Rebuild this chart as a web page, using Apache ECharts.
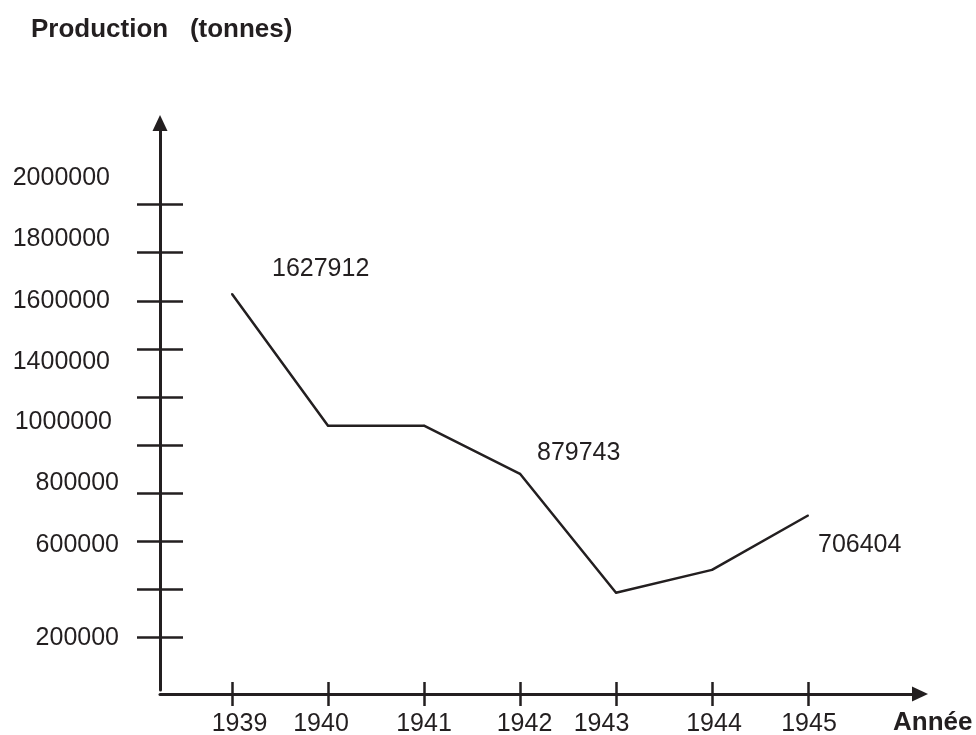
<!DOCTYPE html>
<html>
<head>
<meta charset="utf-8">
<script src="https://cdn.jsdelivr.net/npm/echarts@6/dist/echarts.min.js"></script>
<style>
html, body { margin: 0; padding: 0; background: #fff; }
#main { width: 976px; height: 735px; }
</style>
</head>
<body>
<div id="main"></div>
<script>
// données
var years = [1939, 1940, 1941, 1942, 1943, 1944, 1945];
var production = [1627912, 1080000, 1080000, 879743, 385000, 480000, 706404];
var labelledYears = [1939, 1942, 1945];          // valeurs imprimées sur la courbe
var yTickValues = [200000, 400000, 600000, 800000, 1000000, 1200000, 1400000, 1600000, 1800000, 2000000];
var yLabelValues = [200000, 600000, 800000, 1000000, 1400000, 1600000, 1800000, 2000000];
var xTickValues = [1939, 1940, 1941, 1942, 1943, 1944, 1945];

var ink = '#231f20';
var font = 'Liberation Sans, Arial, Helvetica, sans-serif';

// décalages (le dessin d'origine est fait à la main)
var pointLabelOffset = { 1939: [39, -25], 1942: [16, -21], 1945: [9, 30] };
var yLabelShift = { 200000: [0, 1], 600000: [0, 4], 800000: [0, -10], 1000000: [7, -23],
                    1400000: [9, 13], 1600000: [9, 0], 1800000: [9, -14], 2000000: [9, -27] };
var xLabelShift = { 1939: 7.5, 1940: -7, 1941: 0, 1942: 4.5, 1943: -14.5, 1944: 2, 1945: 1 };

var yRich = {};
yLabelValues.forEach(function (v) {
  var s = yLabelShift[v];
  yRich['y' + v] = {
    fontSize: 25, color: ink, fontFamily: font,
    padding: [s[1] > 0 ? 2 * s[1] : 0, s[0], s[1] < 0 ? -2 * s[1] : 0, 0]
  };
});
var xRich = {};
xTickValues.forEach(function (v) {
  var d = xLabelShift[v];
  xRich['x' + v] = {
    fontSize: 25, color: ink, fontFamily: font,
    padding: [0, d < 0 ? -2 * d : 0, 0, d > 0 ? 2 * d : 0]
  };
});

var seriesData = years.map(function (y, i) {
  var item = { value: [y, production[i]] };
  if (labelledYears.indexOf(y) >= 0) {
    item.label = {
      show: true, position: 'right', distance: 0,
      offset: pointLabelOffset[y],
      formatter: String(production[i]),
      fontSize: 25, color: ink, fontFamily: font
    };
  }
  return item;
});

var myChart = echarts.init(document.getElementById('main'));
myChart.setOption({
  animation: false,
  backgroundColor: '#fff',
  title: {
    text: 'Production   (tonnes)',
    left: 31, top: 17, padding: 0,
    textStyle: { fontSize: 26, fontWeight: 'bold', color: ink, fontFamily: font }
  },
  grid: { left: 160, right: 56, top: 123, bottom: 45, containLabel: false, outerBoundsMode: 'none' },
  xAxis: [
    {
      type: 'value', position: 'bottom', offset: 4,
      min: 1938.25, max: 1946.1667,
      name: '{n|Année}', nameLocation: 'end', nameGap: -27,
      nameMoveOverlap: false,
      nameTextStyle: {
        rich: { n: { fontSize: 26, fontWeight: 'bold', color: ink, fontFamily: font, padding: [58, 0, 0, 0] } }
      },
      axisLine: { show: true, onZero: false, symbol: ['none', 'triangle'], symbolSize: [15, 16],
                  lineStyle: { color: ink, width: 3 } },
      axisTick: { show: true, customValues: xTickValues, length: 12, lineStyle: { color: ink, width: 2.5 } },
      axisLabel: {
        customValues: xTickValues, margin: 18,
        formatter: function (v) { return '{x' + v + '|' + v + '}'; },
        rich: xRich
      },
      splitLine: { show: false }
    },
    {
      type: 'value', position: 'bottom', offset: 4,
      min: 1938.25, max: 1946.1667,
      axisLine: { show: false, onZero: false },
      axisTick: { show: true, inside: true, customValues: xTickValues, length: 12, lineStyle: { color: ink, width: 2.5 } },
      axisLabel: { show: false },
      splitLine: { show: false }
    }
  ],
  yAxis: [
    {
      type: 'value', position: 'left',
      min: -20000, max: 2340000,
      axisLine: { show: true, onZero: false, symbol: ['none', 'triangle'], symbolSize: [15, 16],
                  lineStyle: { color: ink, width: 3 } },
      axisTick: { show: true, customValues: yTickValues, length: 23, lineStyle: { color: ink, width: 2.5 } },
      axisLabel: {
        customValues: yLabelValues, margin: 41,
        formatter: function (v) { return '{y' + v + '|' + v + '}'; },
        rich: yRich
      },
      splitLine: { show: false }
    },
    {
      type: 'value', position: 'left',
      min: -20000, max: 2340000,
      axisLine: { show: false, onZero: false },
      axisTick: { show: true, inside: true, customValues: yTickValues, length: 23, lineStyle: { color: ink, width: 2.5 } },
      axisLabel: { show: false },
      splitLine: { show: false }
    }
  ],
  series: [
    {
      type: 'line',
      xAxisIndex: 0, yAxisIndex: 0,
      data: seriesData,
      symbol: 'circle', symbolSize: 2,
      itemStyle: { color: ink },
      lineStyle: { color: ink, width: 2.5 },
      label: { show: false },
      emphasis: { disabled: true }
    }
  ]
});
</script>
</body>
</html>
